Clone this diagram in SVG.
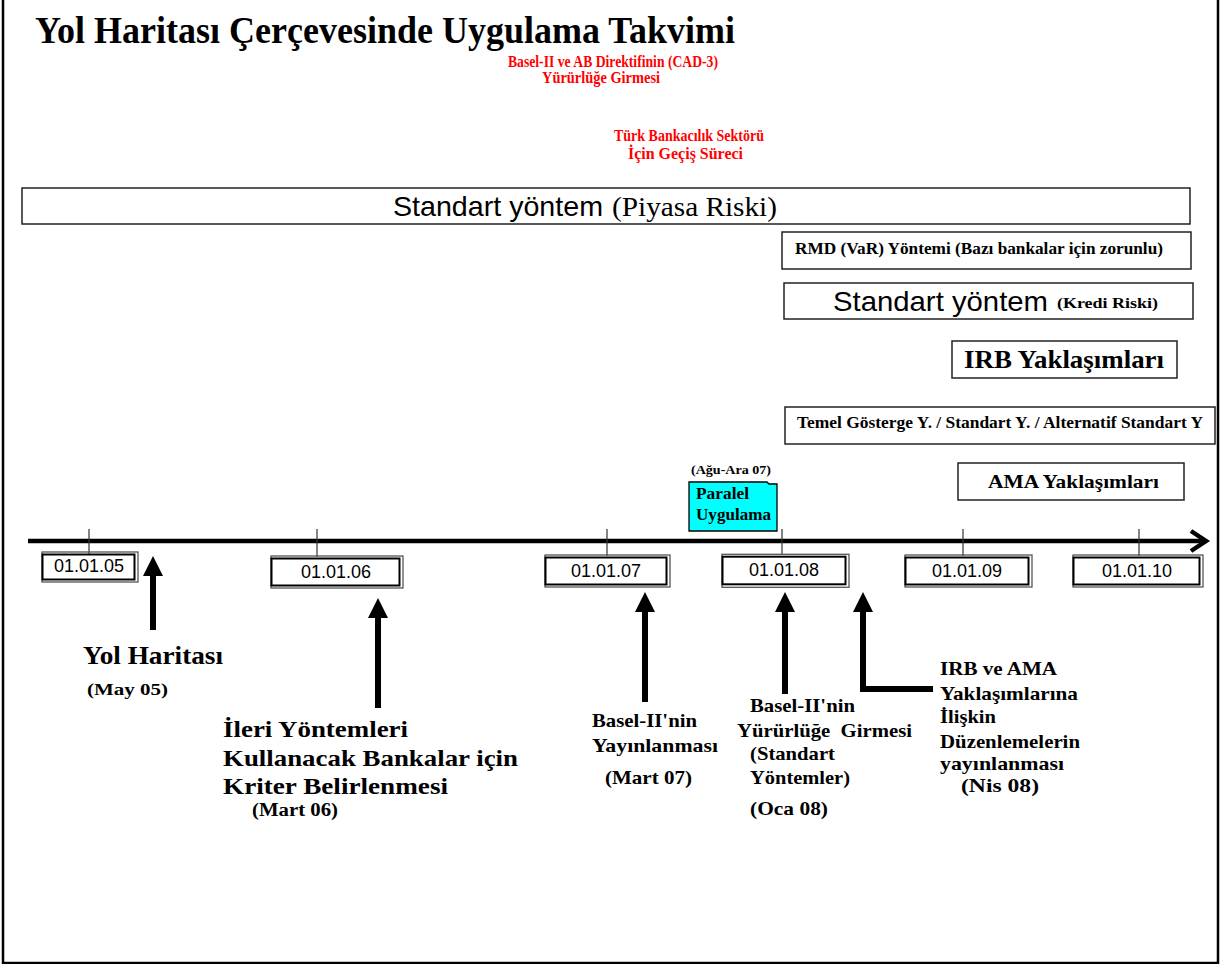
<svg xmlns="http://www.w3.org/2000/svg" width="1220" height="964" viewBox="0 0 1220 964">
<style>
.tr{font-family:"Liberation Serif","Times New Roman",serif;font-weight:bold;fill:#000}
.ar{font-family:"Liberation Sans",Arial,sans-serif;fill:#000}
.red{fill:#ff0000;font-size:16px}
.box{fill:#fff;stroke:#222;stroke-width:1.5}
.dOut{fill:none;stroke:#555;stroke-width:1.3}
.dIn{fill:#fff;stroke:#000;stroke-width:2}
.dt{font-family:"Liberation Sans",Arial,sans-serif;font-size:18px;text-anchor:middle;fill:#000}
.tick{stroke:#333;stroke-width:1.2}
.arw{stroke:#000;stroke-width:6;fill:none;marker-end:url(#head)}
.lbl{font-size:19px}
</style>
<defs>
<marker id="head" markerUnits="userSpaceOnUse" markerWidth="20" markerHeight="20" viewBox="0 0 20 20" refX="0" refY="10" orient="auto">
<path d="M0,0 L20,10 L0,20 z" fill="#000"/>
</marker>
</defs>
<rect x="0" y="0" width="1220" height="964" fill="#fff"/>
<path d="M3,0 V963 H1218 V0" fill="none" stroke="#000" stroke-width="2.5"/>

<g id="title">
<text class="tr" x="35" y="43" font-size="37" textLength="700" lengthAdjust="spacingAndGlyphs">Yol Haritası Çerçevesinde Uygulama Takvimi</text>
</g>
<g id="note-basel">
<text class="tr red" x="508" y="67" textLength="210" lengthAdjust="spacingAndGlyphs">Basel-II ve AB Direktifinin (CAD-3)</text>
<text class="tr red" x="542" y="83" textLength="118" lengthAdjust="spacingAndGlyphs">Yürürlüğe Girmesi</text>
</g>
<g id="note-turk">
<text class="tr red" x="614" y="141" textLength="150" lengthAdjust="spacingAndGlyphs">Türk Bankacılık Sektörü</text>
<text class="tr red" x="628" y="159" textLength="115" lengthAdjust="spacingAndGlyphs">İçin Geçiş Süreci</text>
</g>

<g id="bar-piyasa">
<rect class="box" x="22" y="188" width="1168" height="36"/>
<text class="ar" x="393" y="216" font-size="28" textLength="210" lengthAdjust="spacingAndGlyphs">Standart yöntem</text>
<text class="tr" x="612" y="216" font-size="27" style="font-weight:normal" textLength="165" lengthAdjust="spacingAndGlyphs">(Piyasa Riski)</text>
</g>
<g id="bar-rmd">
<rect class="box" x="782" y="232" width="409" height="37"/>
<text class="tr" x="795" y="254" font-size="17" textLength="368" lengthAdjust="spacingAndGlyphs">RMD (VaR) Yöntemi (Bazı bankalar için zorunlu)</text>
</g>
<g id="bar-kredi">
<rect class="box" x="784" y="283" width="409" height="36"/>
<text class="ar" x="833" y="311" font-size="28" textLength="215" lengthAdjust="spacingAndGlyphs">Standart yöntem</text>
<text class="tr" x="1057" y="308" font-size="15" textLength="101" lengthAdjust="spacingAndGlyphs">(Kredi Riski)</text>
</g>
<g id="bar-irb">
<rect class="box" x="952" y="341" width="225" height="37"/>
<text class="tr" x="964" y="368" font-size="26" textLength="200" lengthAdjust="spacingAndGlyphs">IRB Yaklaşımları</text>
</g>
<g id="bar-temel">
<rect class="box" x="785" y="407" width="430" height="37"/>
<text class="tr" x="797" y="428" font-size="17" textLength="406" lengthAdjust="spacingAndGlyphs">Temel Gösterge Y. / Standart Y. / Alternatif Standart Y</text>
</g>
<g id="bar-ama">
<rect class="box" x="958" y="463" width="226" height="37"/>
<text class="tr" x="988" y="488" font-size="19" textLength="171" lengthAdjust="spacingAndGlyphs">AMA Yaklaşımları</text>
</g>
<g id="paralel">
<text class="tr" x="691" y="474" font-size="12" textLength="80" lengthAdjust="spacingAndGlyphs">(Ağu-Ara 07)</text>
<path d="M689,482 H767 L769,484 H777 V531 H689 Z" fill="#00ffff" stroke="#000" stroke-width="1.3"/>
<text class="tr" x="696" y="499" font-size="17" textLength="53" lengthAdjust="spacingAndGlyphs">Paralel</text>
<text class="tr" x="696" y="520" font-size="17" textLength="75" lengthAdjust="spacingAndGlyphs">Uygulama</text>
</g>

<g id="timeline">
<line x1="28" y1="541" x2="1203" y2="541" stroke="#000" stroke-width="4.5"/>
<polyline points="1191,531 1206,541 1191,551" fill="none" stroke="#000" stroke-width="4.5"/>
<line class="tick" x1="89" y1="529" x2="89" y2="554"/>
<line class="tick" x1="317" y1="529" x2="317" y2="557"/>
<line class="tick" x1="607" y1="529" x2="607" y2="556"/>
<line class="tick" x1="782" y1="529" x2="782" y2="555"/>
<line class="tick" x1="963" y1="529" x2="963" y2="556"/>
<line class="tick" x1="1139" y1="529" x2="1139" y2="556"/>
</g>

<g id="d2005">
<rect class="dOut" x="42" y="552" width="96" height="30"/>
<rect class="dIn" x="42.5" y="554.5" width="92" height="25"/>
<text class="dt" x="89" y="572" font-size="16">01.01.05</text>
</g>
<g id="d2006">
<rect class="dOut" x="271" y="556" width="132" height="32"/>
<rect class="dIn" x="271.5" y="558.5" width="128" height="27"/>
<text class="dt" x="336" y="578">01.01.06</text>
</g>
<g id="d2007">
<rect class="dOut" x="545" y="555" width="125" height="32"/>
<rect class="dIn" x="545.5" y="557.5" width="121" height="27"/>
<text class="dt" x="606" y="577">01.01.07</text>
</g>
<g id="d2008">
<rect class="dOut" x="722" y="554.3" width="127" height="33"/>
<rect class="dIn" x="722.5" y="556.7" width="123" height="27.6"/>
<text class="dt" x="784" y="576">01.01.08</text>
</g>
<g id="d2009">
<rect class="dOut" x="905" y="555" width="127" height="32"/>
<rect class="dIn" x="905.5" y="557.5" width="123" height="27"/>
<text class="dt" x="967" y="577">01.01.09</text>
</g>
<g id="d2010">
<rect class="dOut" x="1073" y="555" width="130" height="32"/>
<rect class="dIn" x="1073.5" y="557.5" width="126" height="27"/>
<text class="dt" x="1137" y="577">01.01.10</text>
</g>

<g id="connectors">
<path class="arw" d="M153,630 V576"/>
<path class="arw" d="M378,708 V618"/>
<path class="arw" d="M645,702 V612"/>
<path class="arw" d="M785,694 V612"/>
<path class="arw" d="M933,689 H863 V612" stroke-linejoin="miter"/>
</g>

<g id="lbl-yol">
<text class="tr" x="83" y="664" font-size="26" textLength="140" lengthAdjust="spacingAndGlyphs">Yol Haritası</text>
<text class="tr" x="87" y="695" font-size="17" textLength="81" lengthAdjust="spacingAndGlyphs">(May 05)</text>
</g>
<g id="lbl-ileri">
<text class="tr" x="223" y="737" font-size="24" textLength="185" lengthAdjust="spacingAndGlyphs">İleri Yöntemleri</text>
<text class="tr" x="223" y="766" font-size="24" textLength="295" lengthAdjust="spacingAndGlyphs">Kullanacak Bankalar için</text>
<text class="tr" x="223" y="794" font-size="24" textLength="225" lengthAdjust="spacingAndGlyphs">Kriter Belirlenmesi</text>
<text class="tr" x="252" y="816" font-size="18" textLength="86" lengthAdjust="spacingAndGlyphs">(Mart 06)</text>
</g>
<g id="lbl-yayin">
<text class="tr lbl" x="592" y="727" textLength="105" lengthAdjust="spacingAndGlyphs">Basel-II'nin</text>
<text class="tr lbl" x="592" y="752" textLength="126" lengthAdjust="spacingAndGlyphs">Yayınlanması</text>
<text class="tr lbl" x="605" y="784" textLength="87" lengthAdjust="spacingAndGlyphs">(Mart 07)</text>
</g>
<g id="lbl-yururluk">
<text class="tr lbl" x="750" y="712" textLength="105" lengthAdjust="spacingAndGlyphs">Basel-II'nin</text>
<text class="tr lbl" x="737" y="737" textLength="175" lengthAdjust="spacingAndGlyphs" xml:space="preserve">Yürürlüğe  Girmesi</text>
<text class="tr lbl" x="750" y="760" textLength="85" lengthAdjust="spacingAndGlyphs">(Standart</text>
<text class="tr lbl" x="750" y="784" textLength="100" lengthAdjust="spacingAndGlyphs">Yöntemler)</text>
<text class="tr lbl" x="750" y="815" textLength="78" lengthAdjust="spacingAndGlyphs">(Oca 08)</text>
</g>
<g id="lbl-irbama">
<text class="tr lbl" x="940" y="675" textLength="117" lengthAdjust="spacingAndGlyphs">IRB ve AMA</text>
<text class="tr lbl" x="940" y="700" textLength="138" lengthAdjust="spacingAndGlyphs">Yaklaşımlarına</text>
<text class="tr lbl" x="940" y="723" textLength="56" lengthAdjust="spacingAndGlyphs">İlişkin</text>
<text class="tr lbl" x="940" y="748" textLength="140" lengthAdjust="spacingAndGlyphs">Düzenlemelerin</text>
<text class="tr lbl" x="940" y="770" textLength="124" lengthAdjust="spacingAndGlyphs">yayınlanması</text>
<text class="tr lbl" x="961" y="792" textLength="78" lengthAdjust="spacingAndGlyphs">(Nis 08)</text>
</g>
</svg>
